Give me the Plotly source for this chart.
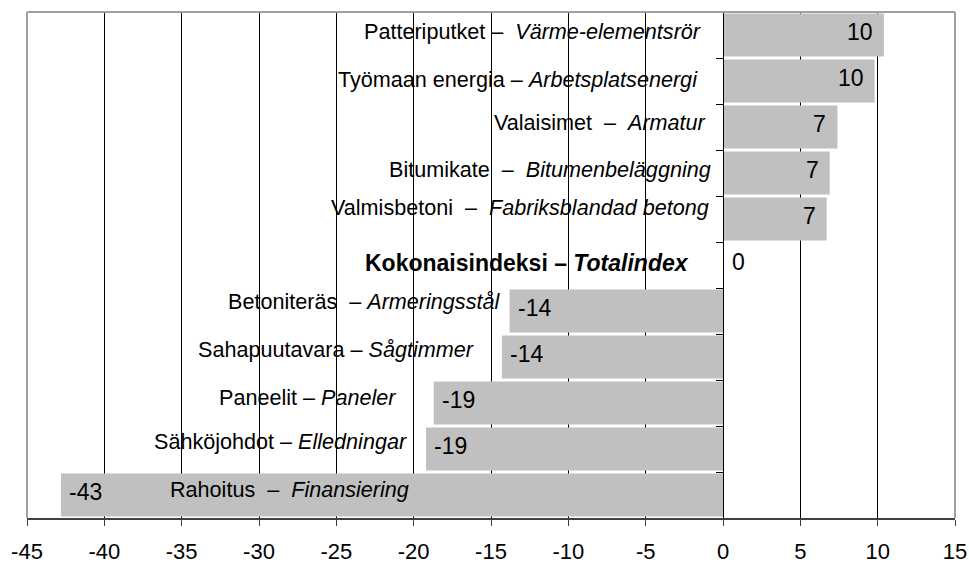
import plotly.graph_objects as go

# ---- data ----
names_fi = ["Patteriputket", "Työmaan energia", "Valaisimet", "Bitumikate", "Valmisbetoni",
            "Kokonaisindeksi", "Betoniteräs", "Sahapuutavara", "Paneelit", "Sähköjohdot", "Rahoitus"]
names_sv = ["Värme-elementsrör", "Arbetsplatsenergi", "Armatur", "Bitumenbeläggning",
            "Fabriksblandad betong", "Totalindex", "Armeringsstål", "Sågtimmer", "Paneler",
            "Elledningar", "Finansiering"]
values = [10.4, 9.8, 7.4, 6.9, 6.7, 0.0, -13.8, -14.3, -18.7, -19.2, -42.8]
x_ticks = [-45, -40, -35, -30, -25, -20, -15, -10, -5, 0, 5, 10, 15]

# ---- layout helpers (label placement, not data) ----
label_right_x = [-1.29, -1.49, -0.97, -0.65, -0.78, -2.07, -14.3, -16.0, -21.0, -20.3, -20.2]
label_lift_px = [4, 2, 4.5, 4, 11.5, 2.5, 10, 8, 5.5, 8, 6]
separators = [" –  ", " – ", "  –  ", "  –  ", "  –  ", " – ", "  – ", " – ", " – ", " – ", "  –  "]

FONT = "Liberation Sans, Arial, sans-serif"

fig = go.Figure()
fig.add_trace(go.Bar(
    x=values, y=names_fi, orientation="h",
    marker=dict(color="#C0C0C0", line=dict(width=0)),
    hoverinfo="x+y",
))

annotations = []
for i, (fi, sv, v) in enumerate(zip(names_fi, names_sv, values)):
    if fi == "Kokonaisindeksi":
        txt = f"<b>{fi}{separators[i]}<i>{sv}</i></b>"
        fsize = 23
    else:
        txt = f"{fi}{separators[i]}<i>{sv}</i>"
        fsize = 21.6
    annotations.append(dict(
        x=label_right_x[i], y=fi, xref="x", yref="y", text=txt, showarrow=False,
        xanchor="right", yanchor="middle", yshift=label_lift_px[i],
        font=dict(family=FONT, size=fsize, color="black"),
    ))
    # value label
    if v > 0:
        annotations.append(dict(
            x=v, y=fi, xref="x", yref="y", text=f"{v:.0f}", showarrow=False,
            xanchor="right", yanchor="middle", xshift=-9, yshift=3,
            font=dict(family=FONT, size=23, color="black"),
        ))
    else:
        annotations.append(dict(
            x=v, y=fi, xref="x", yref="y", text=f"{v:.0f}", showarrow=False,
            xanchor="left", yanchor="middle", xshift=6 if v < 0 else 7, yshift=3,
            font=dict(family=FONT, size=23, color="black"),
        ))

border = dict(color="#A0A0A0", width=2)
shapes = [
    dict(type="line", xref="paper", yref="paper", x0=0, x1=0, y0=0, y1=1, line=border, layer="above"),
    dict(type="line", xref="paper", yref="paper", x0=0, x1=1, y0=1, y1=1, line=border, layer="above"),
    dict(type="line", xref="paper", yref="paper", x0=1, x1=1, y0=0, y1=1, line=border, layer="above"),
]

fig.update_layout(
    width=969, height=563,
    margin=dict(l=27, r=14, t=12, b=45, autoexpand=False),
    paper_bgcolor="white", plot_bgcolor="white",
    showlegend=False, bargap=0.07,
    annotations=annotations, shapes=shapes,
    font=dict(family=FONT, size=21, color="black"),
    xaxis=dict(
        range=[-45, 15], tickvals=x_ticks, ticktext=[str(t) for t in x_ticks],
        showgrid=True, gridcolor="black", gridwidth=1, zeroline=False,
        showline=True, linecolor="#404040", linewidth=2,
        ticks="outside", ticklen=6, tickcolor="#404040", tickwidth=1,
        ticklabelstandoff=7, automargin=False,
        tickfont=dict(family=FONT, size=22, color="black"),
    ),
    yaxis=dict(
        type="category", categoryorder="array", categoryarray=names_fi,
        autorange="reversed", showgrid=False, showticklabels=False,
        anchor="free", position=0.75, automargin=False,
        showline=True, linecolor="black", linewidth=1,
        ticks="outside", tickson="boundaries", ticklen=7, tickcolor="black", tickwidth=1,
    ),
)

fig.write_html(
    "out.html",
    config={"displayModeBar": False},
    post_script="document.body.style.margin='0';document.body.style.padding='0';document.body.style.overflow='hidden';",
)
